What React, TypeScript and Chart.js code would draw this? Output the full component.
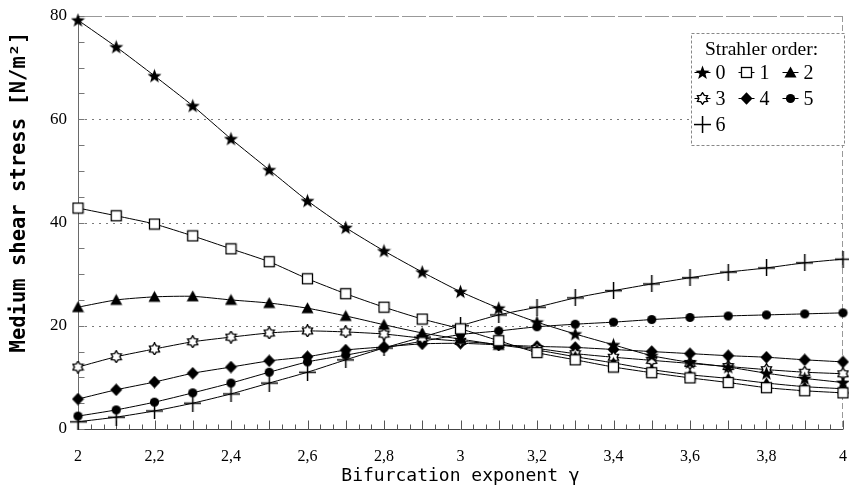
import React, { useEffect, useRef } from 'react';
import { Chart, registerables } from 'chart.js';

Chart.register(...registerables);

// ---- data ----
const gamma = [2, 2.1, 2.2, 2.3, 2.4, 2.5, 2.6, 2.7, 2.8, 2.9, 3, 3.1, 3.2, 3.3, 3.4, 3.5, 3.6, 3.7, 3.8, 3.9, 4];
const order0 = [79.2, 74.0, 68.4, 62.6, 56.2, 50.2, 44.2, 39.0, 34.5, 30.4, 26.6, 23.4, 20.7, 18.4, 16.3, 14.2, 12.9, 12.0, 10.8, 9.8, 9.0];
const order1 = [42.8, 41.3, 39.7, 37.4, 34.9, 32.4, 29.1, 26.2, 23.6, 21.3, 19.4, 17.1, 14.8, 13.4, 12.0, 10.9, 9.9, 9.0, 8.0, 7.4, 7.0];
const order2 = [23.6, 25.0, 25.6, 25.7, 25.0, 24.4, 23.4, 21.9, 20.2, 18.6, 17.4, 16.3, 15.3, 14.0, 12.8, 11.5, 10.5, 9.8, 8.9, 8.2, 7.8];
const order3 = [12.0, 14.0, 15.5, 16.9, 17.8, 18.6, 19.0, 18.8, 18.4, 17.6, 17.0, 16.4, 15.6, 14.6, 13.9, 13.3, 12.7, 12.1, 11.5, 11.0, 10.7];
const order4 = [5.8, 7.6, 9.1, 10.8, 12.0, 13.2, 14.0, 15.3, 15.9, 16.5, 16.6, 16.3, 16.0, 15.8, 15.4, 15.0, 14.6, 14.2, 13.9, 13.4, 13.0];
const order5 = [2.5, 3.7, 5.2, 7.0, 8.9, 11.0, 13.0, 14.3, 15.7, 17.0, 18.3, 19.0, 19.8, 20.3, 20.7, 21.2, 21.6, 21.9, 22.1, 22.3, 22.5];
const order6 = [1.4, 2.3, 3.5, 5.0, 6.8, 8.9, 11.0, 13.4, 15.7, 17.8, 20.0, 22.1, 23.6, 25.4, 26.8, 28.1, 29.3, 30.4, 31.2, 32.2, 32.9];

const seriesLabels = ['0', '1', '2', '3', '4', '5', '6'];
const xTickValues = [2, 2.2, 2.4, 2.6, 2.8, 3, 3.2, 3.4, 3.6, 3.8, 4];
const xTickLabels = ['2', '2,2', '2,4', '2,6', '2,8', '3', '3,2', '3,4', '3,6', '3,8', '4'];
const yTickValues = [0, 20, 40, 60, 80];
const yTickLabels = ['0', '20', '40', '60', '80'];
const yGridValues = [20, 40, 60];
const legendTitle = 'Strahler order:';
const xTitle = 'Bifurcation exponent \u03b3';
const yTitle = 'Medium shear stress [N/m\u00b2]';

// ---- marker images ----
function mk(size: number, draw: (c: CanvasRenderingContext2D, s: number) => void) {
  const cv = document.createElement('canvas');
  cv.width = size;
  cv.height = size;
  const c = cv.getContext('2d') as CanvasRenderingContext2D;
  c.fillStyle = '#000';
  c.strokeStyle = '#000';
  draw(c, size);
  return cv;
}

function makeMarkers() {
  const star5 = mk(15, (c, s) => {
    const cx = s / 2, cy = s / 2 + 0.5;
    c.beginPath();
    for (let i = 0; i < 10; i++) {
      const r = i % 2 === 0 ? 7.4 : 3.1;
      const a = -Math.PI / 2 + (i * Math.PI) / 5;
      c.lineTo(cx + r * Math.cos(a), cy + r * Math.sin(a));
    }
    c.closePath();
    c.fill();
  });
  const square = mk(13, (c) => {
    c.fillStyle = '#fff';
    c.fillRect(1, 1, 11, 11);
    c.lineWidth = 1.3;
    c.strokeRect(1.5, 1.5, 10, 10);
  });
  const tri = mk(13, (c) => {
    c.beginPath();
    c.moveTo(6.5, 0.5);
    c.lineTo(12.5, 11.5);
    c.lineTo(0.5, 11.5);
    c.closePath();
    c.fill();
  });
  const hexStar = mk(13, (c, s) => {
    const cx = s / 2, cy = s / 2;
    c.beginPath();
    for (let i = 0; i < 12; i++) {
      const r = i % 2 === 0 ? 5.8 : 3.6;
      const a = -Math.PI / 2 + (i * Math.PI) / 6;
      c.lineTo(cx + r * Math.cos(a), cy + r * Math.sin(a));
    }
    c.closePath();
    c.fillStyle = '#fff';
    c.fill();
    c.lineWidth = 1.4;
    c.stroke();
  });
  const diamond = mk(13, (c) => {
    c.beginPath();
    c.moveTo(6.5, 0.3);
    c.lineTo(12.5, 6.5);
    c.lineTo(6.5, 12.7);
    c.lineTo(0.5, 6.5);
    c.closePath();
    c.fill();
  });
  const dot = mk(11, (c) => {
    c.beginPath();
    c.arc(5.5, 5.5, 4.6, 0, Math.PI * 2);
    c.fill();
  });
  const plus = mk(17, (c) => {
    c.fillRect(0, 7.8, 17, 1.5);
    c.fillRect(7.8, 0, 1.5, 17);
  });
  return [star5, square, tri, hexStar, diamond, dot, plus];
}

// ---- plugins ----
const framePlugin = {
  id: 'frameAndTicks',
  beforeDatasetsDraw(chart: any) {
    const { ctx, chartArea, scales } = chart;
    const xs = scales.x, ys = scales.y;
    const L = chartArea.left, R = chartArea.right, T = chartArea.top, B = chartArea.bottom;
    ctx.save();
    ctx.strokeStyle = '#7a7a7a';
    ctx.lineWidth = 1;
    ctx.setLineDash([2, 5]);
    yGridValues.forEach((v) => {
      const y = Math.round(ys.getPixelForValue(v)) + 0.5;
      ctx.beginPath();
      ctx.moveTo(L, y);
      ctx.lineTo(R, y);
      ctx.stroke();
    });
    ctx.strokeStyle = '#999';
    ctx.setLineDash([24, 3]);
    const yTop = Math.round(ys.getPixelForValue(80)) + 0.5;
    ctx.beginPath();
    ctx.moveTo(L, yTop);
    ctx.lineTo(R, yTop);
    ctx.stroke();
    ctx.setLineDash([6, 3]);
    const xR = Math.round(xs.getPixelForValue(4)) - 0.5;
    ctx.beginPath();
    ctx.moveTo(xR, T);
    ctx.lineTo(xR, B);
    ctx.stroke();
    ctx.setLineDash([]);
    ctx.strokeStyle = '#6a6a6a';
    const xL = Math.round(xs.getPixelForValue(2)) + 0.5;
    ctx.beginPath();
    ctx.moveTo(xL, T);
    ctx.lineTo(xL, B);
    ctx.stroke();
    ctx.strokeStyle = '#444';
    const yB = Math.round(ys.getPixelForValue(0)) + 0.5;
    ctx.beginPath();
    ctx.moveTo(L, yB);
    ctx.lineTo(R, yB);
    ctx.stroke();
    ctx.strokeStyle = '#555';
    for (let i = 0; i <= 60; i++) {
      const v = 2 + i / 30;
      const x = Math.round(xs.getPixelForValue(v)) + 0.5;
      const len = i % 3 === 0 ? 9 : 5;
      ctx.beginPath();
      ctx.moveTo(x, yB);
      ctx.lineTo(x, yB - len);
      ctx.stroke();
    }
    ctx.strokeStyle = '#777';
    for (let v = 0; v <= 80; v += 5) {
      const y = Math.round(ys.getPixelForValue(v)) + 0.5;
      ctx.beginPath();
      ctx.moveTo(xL, y);
      ctx.lineTo(xL + 6, y);
      ctx.stroke();
    }
    ctx.restore();
  },
  afterDraw(chart: any) {
    const { ctx, chartArea } = chart;
    ctx.save();
    ctx.translate(chartArea.left - 58, chartArea.top + 176);
    ctx.rotate(-Math.PI / 2);
    ctx.fillStyle = '#000';
    ctx.font = 'bold 20.5px "DejaVu Sans Mono", monospace';
    ctx.textAlign = 'center';
    ctx.textBaseline = 'middle';
    ctx.fillText(yTitle, 0, 0);
    ctx.restore();
  },
};

const legendPlugin = {
  id: 'strahlerLegend',
  afterDraw(chart: any) {
    const { ctx, chartArea } = chart;
    const bx = chartArea.right - 151.5;
    const by = chartArea.top + 17.5;
    const bw = 153;
    const bh = 112;
    ctx.save();
    ctx.fillStyle = '#fff';
    ctx.fillRect(bx, by, bw, bh);
    ctx.strokeStyle = '#888';
    ctx.lineWidth = 1;
    ctx.setLineDash([3, 2]);
    ctx.strokeRect(bx, by, bw, bh);
    ctx.setLineDash([]);
    ctx.fillStyle = '#000';
    ctx.font = '19.5px "Liberation Serif", serif';
    ctx.textAlign = 'center';
    ctx.textBaseline = 'middle';
    ctx.fillText(legendTitle, bx + 70, by + 16);
    ctx.font = '20px "Liberation Serif", serif';
    ctx.textAlign = 'left';
    const datasets = chart.data.datasets;
    datasets.forEach((ds: any, i: number) => {
      const row = Math.floor(i / 3);
      const col = i % 3;
      const mx = bx + 11 + col * 44;
      const my = by + 39 + row * 26;
      ctx.strokeStyle = '#000';
      ctx.lineWidth = 1;
      ctx.beginPath();
      ctx.moveTo(mx - 8, my);
      ctx.lineTo(mx + 8, my);
      ctx.stroke();
      const img = ds.pointStyle as HTMLCanvasElement;
      ctx.drawImage(img, mx - img.width / 2, my - img.height / 2);
      ctx.fillStyle = '#000';
      ctx.fillText(ds.label, mx + 13, my + 1);
    });
    ctx.restore();
  },
};

export default function App() {
  const canvasRef = useRef<HTMLCanvasElement | null>(null);

  useEffect(() => {
    document.body.style.margin = '0';
    document.body.style.background = '#fff';
    const markers = makeMarkers();
    const series = [order0, order1, order2, order3, order4, order5, order6];
    const datasets = series.map((arr, i) => ({
      label: seriesLabels[i],
      data: gamma.map((g, j) => ({ x: g, y: arr[j] })),
      borderColor: '#000',
      backgroundColor: '#000',
      borderWidth: 1,
      pointStyle: markers[i],
      pointRadius: 6,
      pointHoverRadius: 6,
      tension: 0.2,
      clip: false as any,
    }));

    const chart = new Chart(canvasRef.current as HTMLCanvasElement, {
      type: 'line',
      data: { datasets },
      plugins: [framePlugin, legendPlugin],
      options: {
        animation: false,
        responsive: false,
        devicePixelRatio: 1,
        layout: { autoPadding: false, padding: { left: 0, right: 6, top: 16, bottom: 0 } },
        plugins: { legend: { display: false }, tooltip: { enabled: false } },
        scales: {
          x: {
            type: 'linear',
            min: 2,
            max: 4,
            afterBuildTicks: (scale: any) => {
              scale.ticks = xTickValues.map((v) => ({ value: v }));
            },
            afterFit: (scale: any) => {
              scale.height = 59;
              scale.paddingLeft = 0;
              scale.paddingRight = 0;
            },
            grid: { display: false, drawTicks: false },
            border: { display: false },
            ticks: {
              autoSkip: false,
              maxRotation: 0,
              padding: 18,
              color: '#000',
              font: { family: '"Liberation Serif", serif', size: 16 },
              callback: (_v: any, i: number) => xTickLabels[i],
            },
            title: {
              display: true,
              text: xTitle,
              color: '#000',
              padding: { top: 0, bottom: 1 },
              font: { family: '"DejaVu Sans Mono", monospace', size: 18 },
            },
          },
          y: {
            type: 'linear',
            min: 0,
            max: 80,
            afterBuildTicks: (scale: any) => {
              scale.ticks = yTickValues.map((v) => ({ value: v }));
            },
            afterFit: (scale: any) => {
              scale.width = 78;
              scale.paddingTop = 0;
              scale.paddingBottom = 0;
            },
            grid: { display: false, drawTicks: false },
            border: { display: false },
            ticks: {
              padding: 11,
              color: '#000',
              font: { family: '"Liberation Serif", serif', size: 17 },
              callback: (_v: any, i: number) => yTickLabels[i],
            },
            title: { display: false },
          },
        },
      } as any,
    });
    return () => chart.destroy();
  }, []);

  return (
    <div style={{ width: 849, height: 488, position: 'relative', background: '#fff' }}>
      <canvas ref={canvasRef} width={849} height={488} style={{ display: 'block' }} />
    </div>
  );
}
